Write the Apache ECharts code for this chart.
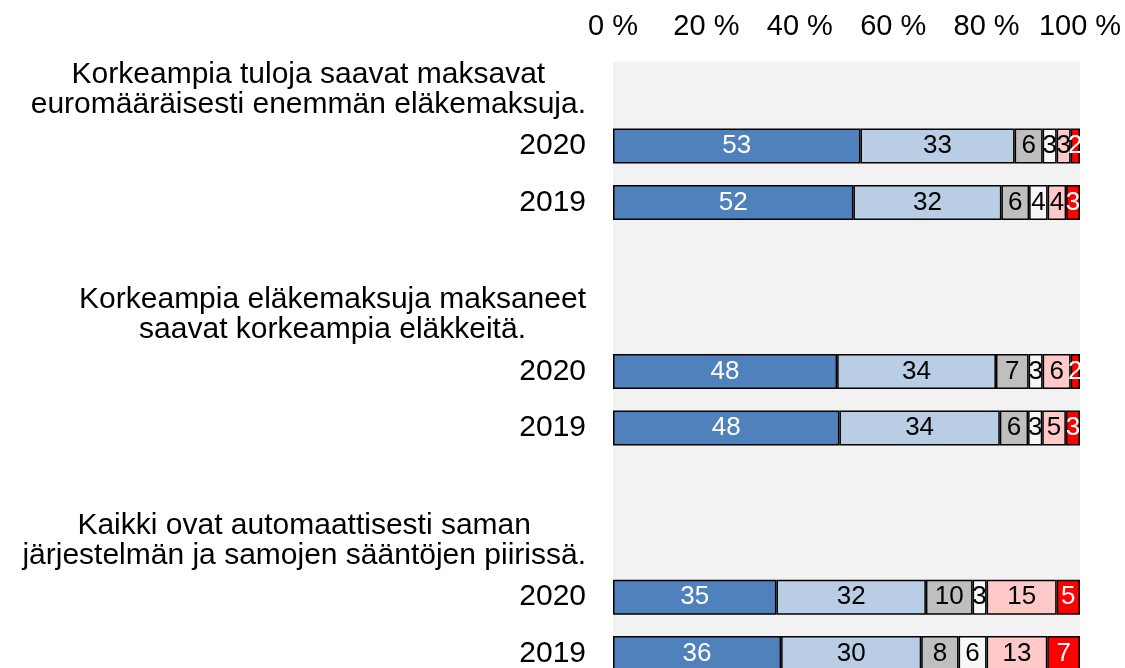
<!DOCTYPE html>
<html>
<head>
<meta charset="utf-8">
<script src="https://cdn.jsdelivr.net/npm/echarts@6/dist/echarts.min.js"></script>
<style>
  html, body { margin: 0; padding: 0; background: #fff; }
  #bar_chart { width: 1125px; height: 668px; }
</style>
</head>
<body>
<div id="bar_chart"></div>
<script>
// rivit ylhäältä alas: otsikkorivi, 2020, 2019, tyhjä väli ...
const categories = [
  'Korkeampia tuloja saavat maksavat\neuromääräisesti enemmän eläkemaksuja.', '2020', '2019', '',
  'Korkeampia eläkemaksuja maksaneet\nsaavat korkeampia eläkkeitä.', '2020', '2019', '',
  'Kaikki ovat automaattisesti saman\njärjestelmän ja samojen sääntöjen piirissä.', '2020', '2019'
]

const seriesNames = [
  'Täysin samaa mieltä', 'Jokseenkin samaa mieltä', 'Ei samaa eikä eri mieltä',
  'En osaa sanoa', 'Jokseenkin eri mieltä', 'Täysin eri mieltä'
]

// prosentit per vastausvaihtoehto (null = otsikko- tai välirivi)
const taysinSamaa    = [null, 53, 52, null, null, 48, 48, null, null, 35, 36]
const jokseenSamaa   = [null, 33, 32, null, null, 34, 34, null, null, 32, 30]
const eiSamaaEiEri   = [null, 6, 6, null, null, 7, 6, null, null, 10, 8]
const enOsaaSanoa    = [null, 3, 4, null, null, 3, 3, null, null, 3, 6]
const jokseenEri     = [null, 3, 4, null, null, 6, 5, null, null, 15, 13]
const taysinEri      = [null, 2, 3, null, null, 2, 3, null, null, 5, 7]

const xTicks = [0, 20, 40, 60, 80, 100]

const colors = ['#4f81bd', '#b9cde5', '#bfbfbf', '#f7f7f7', '#ffc9c9', '#ff0000']
const labelColors = ['#fff', '#000', '#000', '#000', '#000', '#fff']

const FONT = '"Liberation Sans", Arial, sans-serif'

const allSeries = [taysinSamaa, jokseenSamaa, eiSamaaEiEri, enOsaaSanoa, jokseenEri, taysinEri]

// 100 % pinottu: jokainen rivi skaalataan summaansa
const rowSums = categories.map((c, i) => {
  let s = 0
  allSeries.forEach(arr => { if (arr[i] != null) s += arr[i] })
  return s
})

const seriesData = allSeries.map((arr, k) => ({
  name: seriesNames[k],
  type: 'bar',
  stack: 'total',
  barWidth: 35,
  itemStyle: {
    color: colors[k],
    borderColor: '#000',
    borderWidth: 1.5
  },
  label: {
    show: true,
    position: 'inside',
    color: labelColors[k],
    fontSize: 26,
    fontFamily: FONT,
    formatter: p => (p.data && p.data.raw != null ? String(p.data.raw) : '')
  },
  data: arr.map((v, i) => v == null ? { value: null } : { value: v / rowSums[i] * 100, raw: v })
}))

const myChart = echarts.init(document.getElementById('bar_chart'))

const myOption = {
  backgroundColor: '#fff',
  animation: false,
  textStyle: { fontFamily: FONT },
  grid: {
    left: 613,
    top: 61.4,
    width: 467,
    height: 620.4,
    outerBoundsMode: 'none',
    show: true,
    backgroundColor: '#f2f2f2',
    borderWidth: 0
  },
  xAxis: {
    type: 'value',
    position: 'top',
    min: xTicks[0],
    max: xTicks[xTicks.length - 1],
    interval: 20,
    axisLine: { show: false },
    axisTick: { show: false },
    splitLine: { show: false },
    axisLabel: {
      formatter: '{value} %',
      fontSize: 29,
      color: '#000',
      fontFamily: FONT,
      margin: 20
    }
  },
  yAxis: {
    type: 'category',
    inverse: true,
    data: categories,
    axisLine: { show: false },
    axisTick: { show: false },
    splitLine: { show: false },
    axisLabel: {
      interval: 0,
      fontSize: 30,
      color: '#000',
      fontFamily: FONT,
      margin: 27,
      formatter: v => v.indexOf('\n') >= 0
        ? v.split('\n').map(l => '{t|' + l + '}').join('\n')
        : v,
      rich: {
        t: {
          align: 'center',
          fontSize: 30,
          lineHeight: 30,
          color: '#000',
          fontFamily: FONT
        }
      }
    }
  },
  series: seriesData
}
myChart.setOption(myOption)
</script>
</body>
</html>
